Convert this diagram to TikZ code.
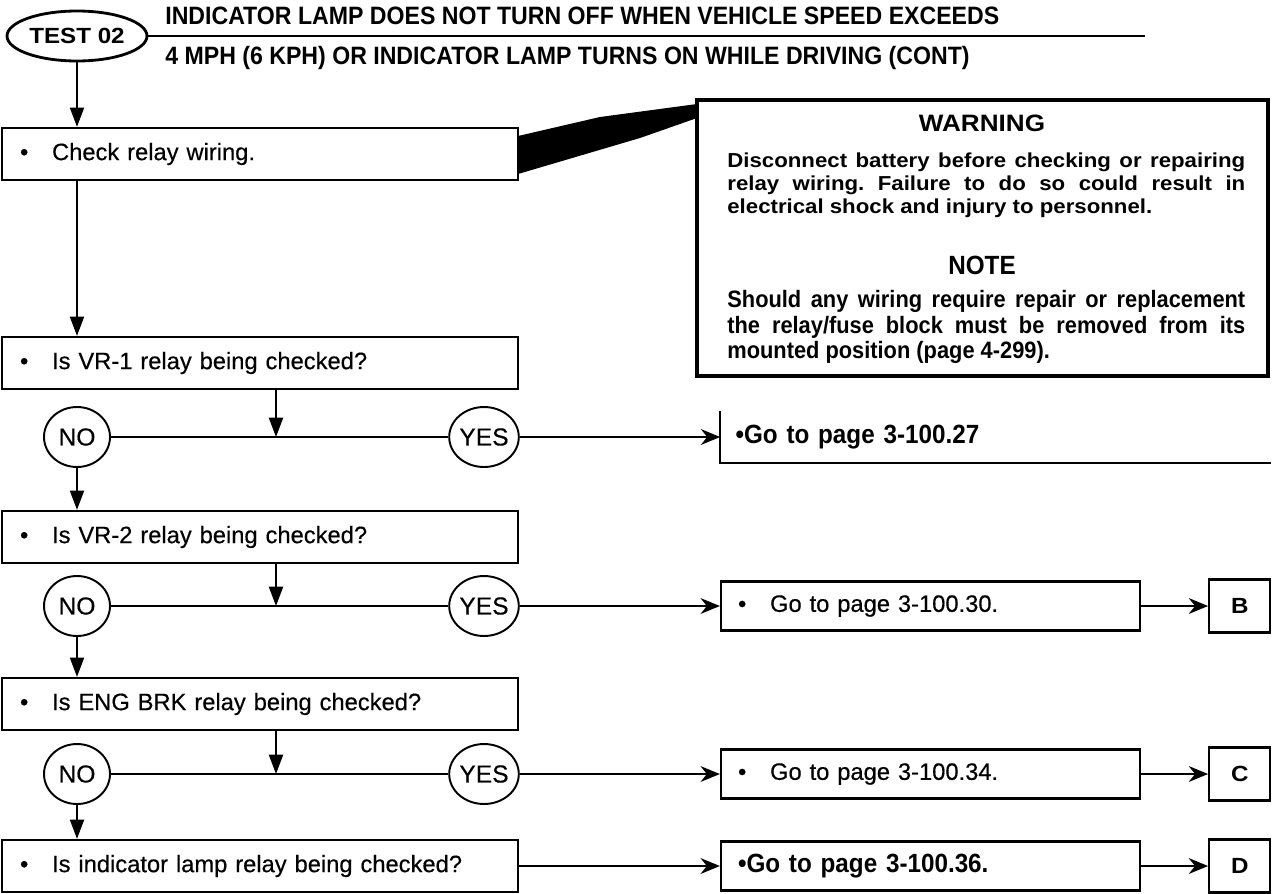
\documentclass[tikz,border=0pt]{standalone}
\usepackage{fontspec}
\setmainfont{Liberation Sans}
\newfontfamily\narrowfont[FakeStretch=0.92]{Liberation Sans}
\newfontfamily\widefont[FakeStretch=1.1]{Liberation Sans}
\newfontfamily\heavyfont[FakeBold=0.4]{Liberation Sans}
\usetikzlibrary{arrows.meta,positioning,shapes.geometric,calc}
\newcommand{\fsz}[1]{\fontsize{#1}{1.1\dimexpr#1pt\relax}\selectfont}
\frenchspacing

\begin{document}
\begin{tikzpicture}[
      x=0.02cm, y=-0.02cm,
      every node/.style={font=\heavyfont\fsz{13.5}},
      qbox/.style={rectangle, draw, line width=1.3pt, minimum width=10.32cm,
                   minimum height=1.04cm, text width=9.6cm, align=left, inner xsep=0.36cm},
      gobox/.style={rectangle, draw, line width=1.3pt, minimum width=8.38cm,
                    minimum height=0.98cm, text width=7.7cm, align=left, inner xsep=0.34cm},
      letter/.style={rectangle, draw, line width=1.3pt, minimum width=1.22cm,
                     minimum height=1.06cm, font=\widefont\bfseries\fsz{12.5}},
      answer/.style={ellipse, draw, line width=1.1pt, minimum width=1.32cm,
                     minimum height=1.2cm, inner sep=0pt, font=\heavyfont\fsz{14}},
      caption/.style={anchor=west, inner sep=0pt, font=\narrowfont\bfseries\fsz{14.3}},
      flow/.style={line width=1.1pt, -{Triangle[length=11pt, width=8pt]}},
      goto/.style={line width=1.1pt, -{Stealth[length=11pt, width=9pt]}},
    ]
    \useasboundingbox (0,0) rectangle (1277,893);

    % Header: test oval, rule and two title lines
    \node[ellipse, draw, line width=1.6pt, minimum width=2.8cm, minimum height=1.0cm,
          inner sep=0pt, font=\widefont\bfseries\fsz{12.5}] (test) at (77,36) {TEST 02};
    \coordinate (ruleend) at (1145,36);
    \draw[line width=1.6pt] (test) -- (ruleend);
    \node[caption] (title1) at (165,16)
          {INDICATOR LAMP DOES NOT TURN OFF WHEN VEHICLE SPEED EXCEEDS};
    \node[caption] (title2) at (165,58)
          {4 MPH (6 KPH) OR INDICATOR LAMP TURNS ON WHILE DRIVING (CONT)};

    % Question boxes down the left side
    \node[qbox] (check) at (260,154) {\textbullet\quad Check relay wiring.};
    \node[qbox] (vr1)   at (260,363) {\textbullet\quad Is VR-1 relay being checked?};
    \node[qbox] (vr2)   at (260,537) {\textbullet\quad Is VR-2 relay being checked?};
    \node[qbox] (eng)   at (260,704) {\textbullet\quad Is ENG BRK relay being checked?};
    \node[qbox] (lamp)  at (260,866) {\textbullet\quad Is indicator lamp relay being checked?};

    % NO / YES answers
    \node[answer] (no1)  at (77,437)  {NO};
    \node[answer] (yes1) at (484,437) {YES};
    \node[answer] (no2)  at (77,606)  {NO};
    \node[answer] (yes2) at (484,606) {YES};
    \node[answer] (no3)  at (77,774)  {NO};
    \node[answer] (yes3) at (484,774) {YES};
    \coordinate (j1) at (276,437);
    \coordinate (j2) at (276,606);
    \coordinate (j3) at (276,774);

    % Warning / note panel with its black pointer
    \fill (518,136) -- (600,117) -- (697,104) -- (697,118) -- (640,138) -- (518,174) -- cycle;
    \node[draw, line width=2pt, minimum width=11.42cm, minimum height=5.52cm] (warnbox)
          at (982.5,238) {};
    \node[font=\widefont\bfseries\fsz{13.5}] (warnhead) at (982,123) {WARNING};
    \node[anchor=west, inner sep=0pt, align=left,
          font=\widefont\bfseries\fontsize{11.5}{13}\selectfont] (warntext) at (727,185)
          {\makebox[10.36cm][s]{Disconnect battery before checking or repairing}\\
           \makebox[10.36cm][s]{relay wiring. Failure to do so could result in}\\
           electrical shock and injury to personnel.};
    \node[font=\narrowfont\bfseries\fsz{15}] (notehead) at (982,265) {NOTE};
    \node[anchor=west, inner sep=0pt, align=left,
          font=\narrowfont\bfseries\fontsize{13.5}{14.7}\selectfont] (notetext) at (727,327)
          {\makebox[10.36cm][s]{Should any wiring require repair or replacement}\\
           \makebox[10.36cm][s]{the relay/fuse block must be removed from its}\\
           mounted position (page 4-299).};

    % Go-to boxes and page letters
    \node[rectangle, minimum width=10.98cm, minimum height=1.04cm, text width=10.4cm,
          align=left, inner xsep=0.3cm, font=\narrowfont\bfseries\fsz{15}] (go1)
          at (995.5,437) {\textbullet Go to page 3-100.27};
    \draw[line width=1.1pt] (go1.north west) -- (go1.south west) -- (go1.south east);
    \node[gobox] (goB) at (930.5,606) {\textbullet\quad Go to page 3-100.30.};
    \node[gobox] (goC) at (930.5,774) {\textbullet\quad Go to page 3-100.34.};
    \node[gobox, font=\narrowfont\bfseries\fsz{15}] (goD) at (930.5,866)
          {\textbullet Go to page 3-100.36.};
    \node[letter, right=1.34cm of goB] (pB) {B};
    \node[letter, right=1.34cm of goC] (pC) {C};
    \node[letter, right=1.34cm of goD] (pD) {D};

    % Connectors
    \draw[flow] (test) -- (check.north -| test);
    \draw[flow] (check.south -| no1) -- (vr1.north -| no1);
    \draw[flow] (vr1.south -| j1) -- (j1);
    \draw[flow] (vr2.south -| j2) -- (j2);
    \draw[flow] (eng.south -| j3) -- (j3);
    \draw[line width=1.1pt] (no1) -- (yes1);
    \draw[line width=1.1pt] (no2) -- (yes2);
    \draw[line width=1.1pt] (no3) -- (yes3);
    \draw[flow] (no1) -- (vr2.north -| no1);
    \draw[flow] (no2) -- (eng.north -| no2);
    \draw[flow] (no3) -- (lamp.north -| no3);
    \draw[goto] (yes1) -- (go1.west);
    \draw[goto] (yes2) -- (goB);
    \draw[goto] (yes3) -- (goC);
    \draw[goto] (lamp) -- (goD);
    \draw[goto] (goB) -- (pB);
    \draw[goto] (goC) -- (pC);
    \draw[goto] (goD) -- (pD);
  \end{tikzpicture}
\end{document}
